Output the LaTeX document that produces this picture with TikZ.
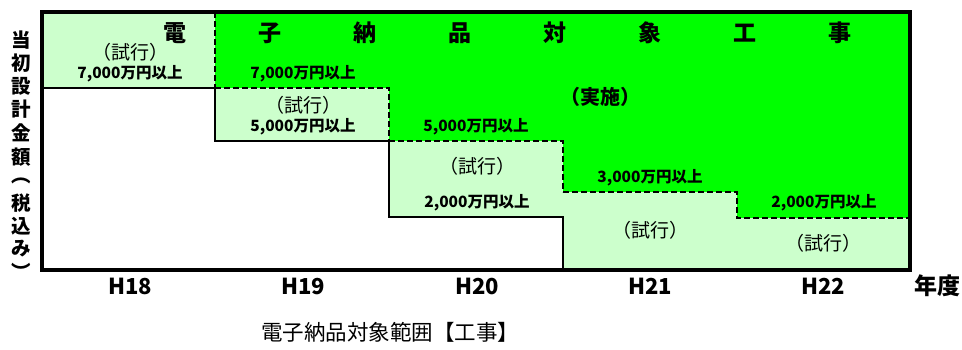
\documentclass[tikz,border=0pt]{standalone}
\usepackage{fontspec}
\newfontfamily\jp{Noto Sans CJK JP}
\definecolor{lgreen}{HTML}{CCFFCC}
\definecolor{bgreen}{HTML}{00FF00}
\tikzset{
  ttl/.style={inner sep=0pt, font=\jp\bfseries\fontsize{23}{26}\selectfont},
  vlab/.style={inner sep=0pt, font=\jp\bfseries\fontsize{19.5}{22}\selectfont},
  amt/.style={inner sep=0pt, font=\jp\bfseries\fontsize{15.5}{18}\selectfont},
  trial/.style={inner sep=0pt, font=\jp\fontsize{19}{22}\selectfont},
  impl/.style={inner sep=0pt, font=\jp\bfseries\fontsize{20}{23}\selectfont},
  yr/.style={inner sep=0pt, font=\jp\bfseries\fontsize{22}{25}\selectfont},
  solidline/.style={line width=2.5pt, line cap=rect},
  dashline/.style={line width=1.8pt, dash pattern=on 6pt off 3pt},
  frame/.style={line width=4pt}
}
\begin{document}
\begin{tikzpicture}[x=1pt,y=-1pt]
\useasboundingbox (0,0) rectangle (962,350);
% fills
\fill[lgreen] (42,12) rectangle (215,88);
\fill[lgreen] (215,88) rectangle (389,141);
\fill[lgreen] (389,141) rectangle (563,217);
\fill[lgreen] (563,192) rectangle (737,270);
\fill[lgreen] (737,218) rectangle (910,270);
\fill[bgreen] (215,12) -- (910,12) -- (910,218) -- (737,218) -- (737,192)
  -- (563,192) -- (563,141) -- (389,141) -- (389,88) -- (215,88) -- cycle;
% boundaries
\draw[solidline] (42,88) -- (215,88) -- (215,141) -- (389,141) -- (389,217) -- (563,217) -- (563,270);
\draw[dashline] (215,12) -- (215,88);
\draw[dashline] (215,88) -- (389,88) -- (389,141);
\draw[dashline] (389,141) -- (563,141) -- (563,192);
\draw[dashline] (563,192) -- (737,192) -- (737,218) -- (910,218);
\draw[frame] (42,12) rectangle (910,270);
% title
\foreach \c [count=\i from 0] in {電,子,納,品,対,象,工,事}
  \node[ttl] (t\i) at (175+95*\i,33) {\c};
% H18
\node[trial] (tr18) at (130,52) {（試行）};
\node[amt] (a18) at (130,74) {7,000万円以上};
% H19
\node[amt] (a19) at (303,74) {7,000万円以上};
\node[trial] (tr19) at (303,105) {（試行）};
\node[amt] (b19) at (303,127) {5,000万円以上};
% implementation
\node[impl] (impl) at (600,97) {（実施）};
% H20
\node[amt] (a20) at (476,127) {5,000万円以上};
\node[trial] (tr20) at (477,166) {（試行）};
\node[amt] (b20) at (477,203) {2,000万円以上};
% H21
\node[amt] (a21) at (650,178) {3,000万円以上};
\node[trial] (tr21) at (650,230) {（試行）};
% H22
\node[amt] (a22) at (824,203) {2,000万円以上};
\node[trial] (tr22) at (823,243) {（試行）};
% axis labels
\node[yr] (h18) at (130,286) {H18};
\node[yr] (h19) at (303,286) {H19};
\node[yr] (h20) at (477,286) {H20};
\node[yr] (h21) at (650,286) {H21};
\node[yr] (h22) at (823,286) {H22};
\node[ttl] (nendo) at (937,286) {年度};
% vertical label
\foreach \c/\y [count=\i] in {当/40,初/63,設/86,計/109,金/133,額/157,︵/181,税/203,込/226,み/249,︶/271}
  \node[vlab] (v\i) at (21,\y) {\c};
% caption
\node[inner sep=0pt, font=\jp\fontsize{21.5}{25}\selectfont] (cap) at (390,332) {電子納品対象範囲【工事】};
\end{tikzpicture}
\end{document}
